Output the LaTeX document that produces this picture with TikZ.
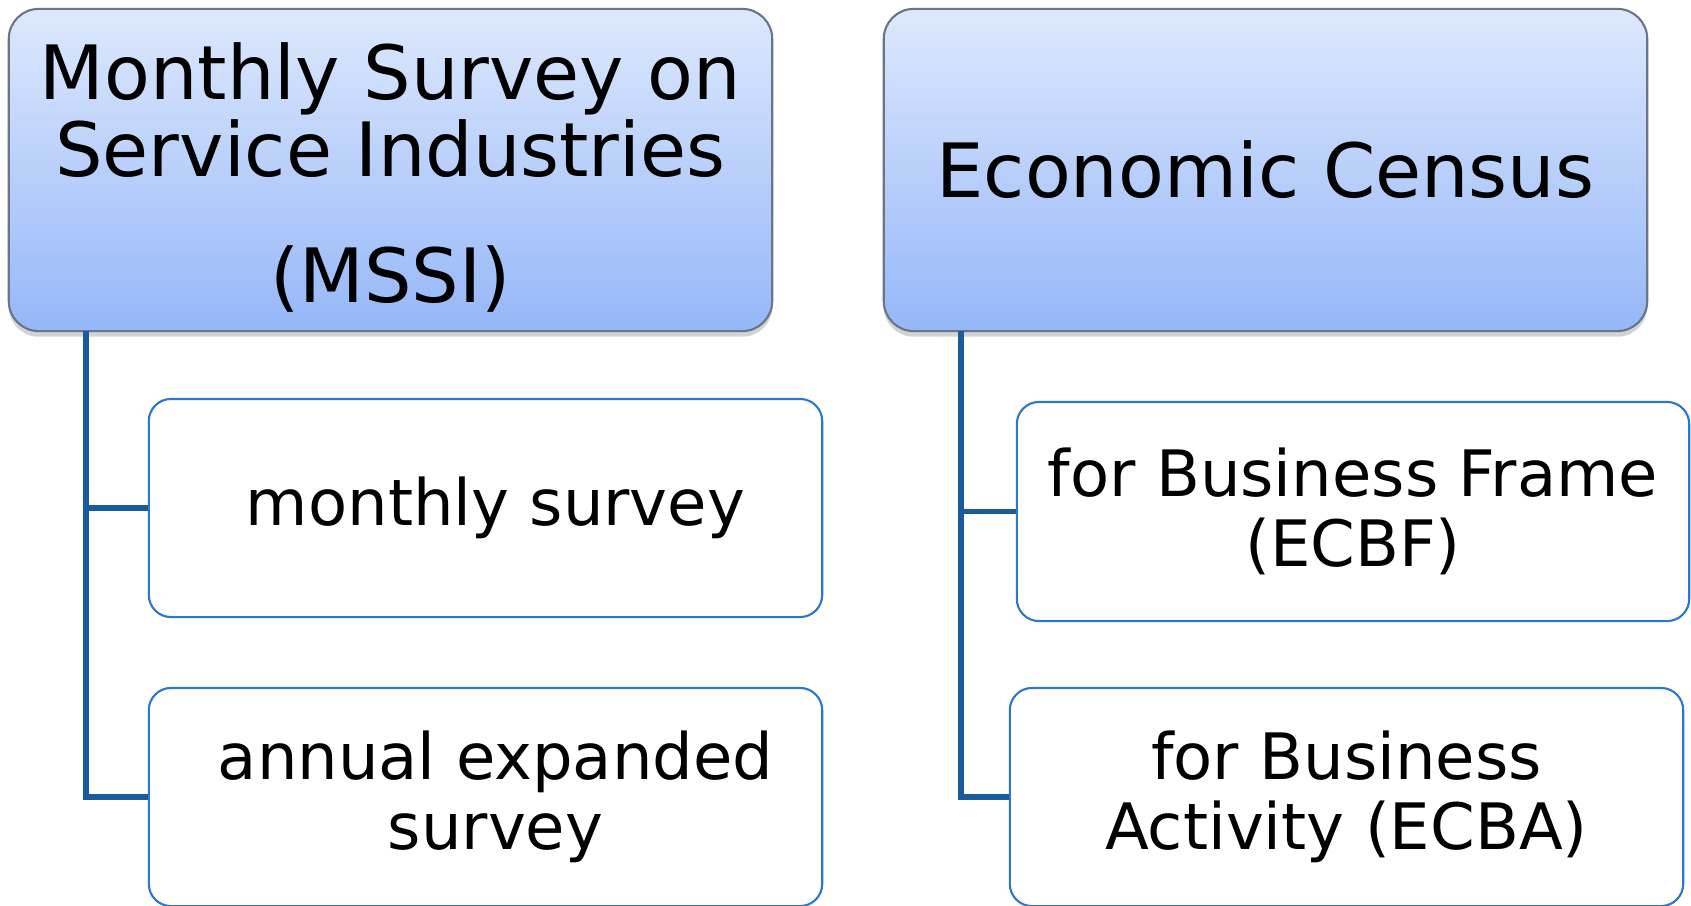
\documentclass[tikz,border=0pt]{standalone}
\usepackage{fontspec}
\setmainfont{DejaVu Sans}
\usetikzlibrary{shadows}

\definecolor{headtop}{HTML}{DDE8FD}
\definecolor{headbot}{HTML}{95B7F8}
\definecolor{headrim}{HTML}{6B7587}
\definecolor{itemrim}{HTML}{2A77CC}
\definecolor{trunk}{HTML}{1A5A9E}

\tikzset{
	headbox/.style={draw=headrim, line width=.6pt, rounded corners=8.5pt, top color=headtop, bottom color=headbot,
		drop shadow={shadow xshift=0pt, shadow yshift=-1.6pt, opacity=.35},
		minimum width=7.63cm, minimum height=3.22cm, align=center, font=\fontsize{21.3}{21.9}\selectfont},
	itembox/.style={draw=itemrim, line width=.6pt, rounded corners=6.3pt, fill=white,
		minimum width=6.73cm, minimum height=2.18cm, align=center, font=\fontsize{18.2}{19.9}\selectfont},
	trunkline/.style={draw=trunk, line width=1.45pt}
}

\begin{document}
\begin{tikzpicture}[x=0.01cm, y=-0.01cm]
		\useasboundingbox (0, 0) rectangle (1691, 905);
		\node [headbox] (mssi) at (390.5, 170) {\rule{0pt}{20.4pt}Monthly Survey on\\Service Industries\\[13.7pt](MSSI)};
		\node [headbox] (census) at (1265.5, 170) {Economic Census};
		\node [itembox] (monthly) at (485.5, 508) {\hspace*{.2cm}monthly survey};
		\node [itembox] (annual) at (485.5, 797) {\hspace*{.2cm}annual expanded\\\hspace*{.2cm}survey};
		\node [itembox, minimum width=6.72cm, minimum height=2.19cm] (ecbf) at (1353, 511.5) {for Business Frame\\(ECBF)};
		\node [itembox] (ecba) at (1346.5, 797) {for Business\\Activity (ECBA)};
		\coordinate (mssi foot) at (86, 331);
		\coordinate (census foot) at (961, 331);
		\draw [trunkline] (mssi foot) |- (monthly.west);
		\draw [trunkline] (mssi foot) |- (annual.west);
		\draw [trunkline] (census foot) |- (ecbf.west);
		\draw [trunkline] (census foot) |- (ecba.west);
	\end{tikzpicture}
\end{document}
